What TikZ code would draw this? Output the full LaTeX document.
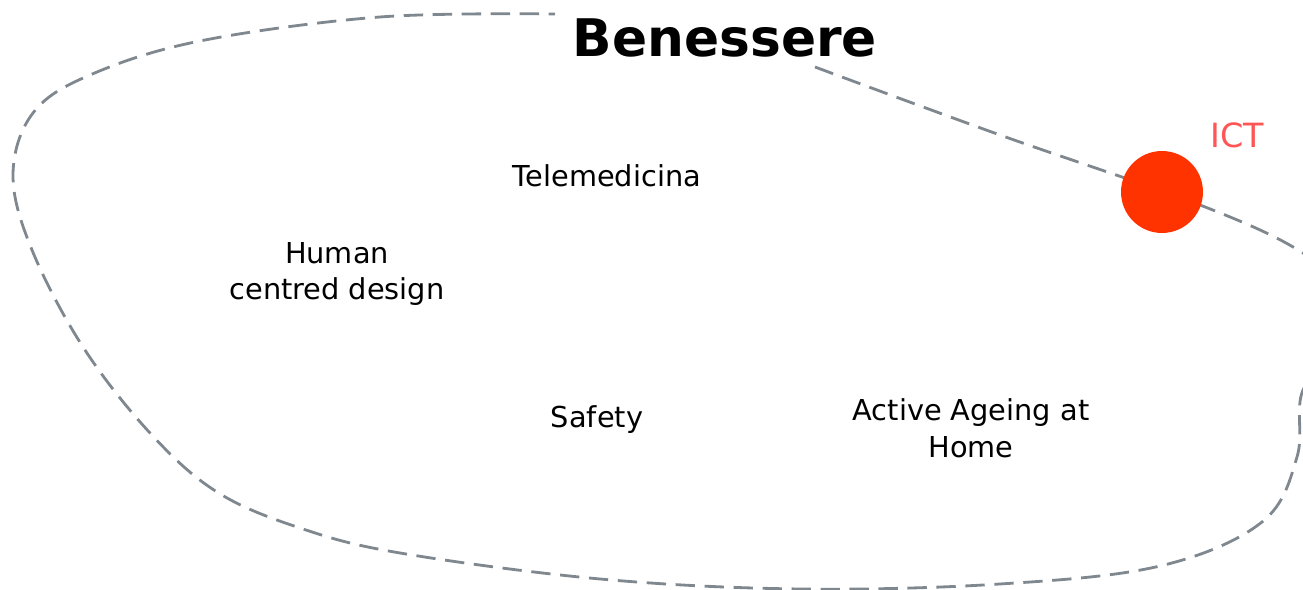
\documentclass[tikz,border=0pt]{standalone}
\usepackage{fontspec}
\setmainfont{DejaVu Sans}
\usepackage{xcolor}
\usepackage{tikz}
\usetikzlibrary{calc,positioning}
\definecolor{dashgray}{HTML}{80888F}
\definecolor{ictred}{HTML}{FF3300}
\definecolor{ictlabel}{HTML}{FF5555}
\tikzset{
  topic/.style={align=center,font=\fontsize{16.4}{21}\selectfont,inner sep=0pt},
  border/.style={dashgray,line width=1.6pt,dash pattern=on 11pt off 5.5pt}
}

\begin{document}
\begin{tikzpicture}[x=0.02cm,y=-0.02cm]
\useasboundingbox (0,0) rectangle (1303,590);
\begin{scope}
\clip (0,0) rectangle (1303,590);
\draw[border] plot[smooth,tension=0.6] coordinates {(815,67) (1000,135) (1200,205) (1303,253) (1350,300) (1345,345) (1303,390) (1297,457) (1262,522) (1160,566) (1000,584) (800,589) (600,579) (400,553) (300,528) (217,492) (150,433) (83,347) (32,250) (13,175) (33,113) (90,75) (200,41) (380,17) (555,14)};
\end{scope}
\node[anchor=base,font=\fontsize{29.5}{34}\selectfont\bfseries,inner sep=0pt] (title) at (725,57){Benessere};
\node[circle,fill=ictred,inner sep=0pt,minimum size=1.64cm] (ictdot) at (1162,192){};
\node[anchor=base,text=ictlabel,font=\fontsize{19}{23}\selectfont,inner sep=0pt] (ict) at (1237,148){ICT};
\node[topic,anchor=base] (tele) at (607,187){Telemedicina};
\node[topic] (hcd) at (337,274){Human\\centred design};
\node[topic,anchor=base] (safety) at (597,428){Safety};
\node[topic] (aah) at (971,428){Active Ageing at\\Home};
\end{tikzpicture}
\end{document}
